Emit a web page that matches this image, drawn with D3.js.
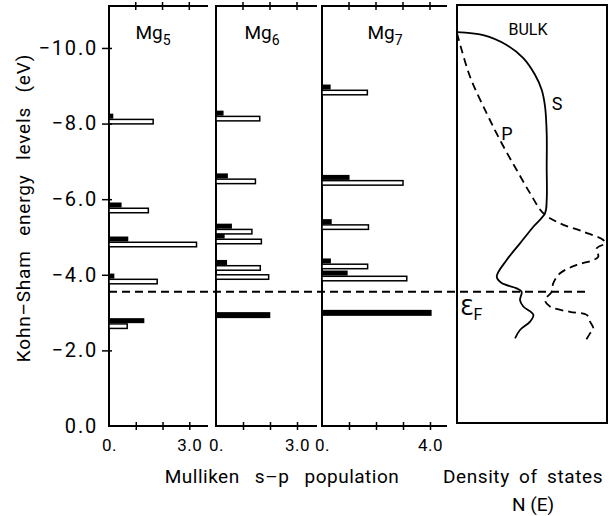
<!DOCTYPE html>
<html><head><meta charset="utf-8">
<script src="https://cdn.jsdelivr.net/npm/d3@7"></script>
<style>
body{margin:0;background:#fff;}
text{font-family:Roboto,"DejaVu Sans",sans-serif;fill:#000;}
</style></head>
<body><svg id="c" width="613" height="516"></svg>
<script>
// ---------- data ----------
const clusterNames = ["Mg", "Mg", "Mg"];
const clusterSubs = ["5", "6", "7"];
const energyTicks = [0, 2, 4, 6, 8, 10];
const fermiEnergy = 3.55;

// Mg5 levels: energy (eV, shown as negative), s population (black), p population (open)
const mg5Energy = [8.13, 5.78, 4.88, 3.90, 2.72];
const mg5S = [0.16, 0.47, 0.72, 0.20, 1.32];
const mg5P = [1.65, 1.47, 3.27, 1.80, 0.68];

const mg6Energy = [8.21, 6.55, 5.22, 4.96, 4.26, 4.02, 2.88];
const mg6S = [0.28, 0.44, 0.59, 0.32, 0.41, 0.0, 2.01];
const mg6P = [1.62, 1.46, 1.33, 1.68, 1.64, 1.95, 0.0];

const mg7Energy = [8.90, 6.51, 5.34, 4.30, 3.98, 2.94];
const mg7S = [0.32, 1.02, 0.36, 0.33, 0.95, 4.06];
const mg7P = [1.68, 3.00, 1.72, 1.69, 3.14, 0.0];

const popTicksMax = [3, 3, 4];

// Bulk density of states (arbitrary units 0..1)
const bulkSEnergy = [10.42, 10.34, 10.08, 9.73, 9.29, 8.89, 8.45, 7.74, 6.86, 5.98, 5.63, 5.27, 4.83, 4.39, 3.95, 3.78, 3.64, 3.55, 3.33, 3.16, 2.94, 2.76, 2.54, 2.32];
const bulkSDos = [0, 0.175, 0.331, 0.442, 0.52, 0.565, 0.587, 0.598, 0.598, 0.598, 0.587, 0.509, 0.42, 0.331, 0.265, 0.298, 0.398, 0.431, 0.42, 0.442, 0.509, 0.487, 0.42, 0.387];
const bulkPEnergy = [10.39, 9.24, 8.27, 7.48, 6.77, 6.16, 5.63, 5.36, 5.14, 4.92, 4.83, 4.70, 4.48, 4.39, 4.26, 4.04, 3.78, 3.55, 3.33, 3.16, 3.02, 2.94, 2.76, 2.58, 2.45, 2.23];
const bulkPDos = [0, 0.087, 0.198, 0.298, 0.398, 0.487, 0.575, 0.687, 0.842, 0.975, 0.987, 0.931, 0.942, 0.909, 0.798, 0.687, 0.642, 0.631, 0.587, 0.62, 0.753, 0.865, 0.887, 0.909, 0.887, 0.853];

// ---------- layout ----------
const svg = d3.select("#c");
const yTop = 6, yBot = 426;
const y = d3.scaleLinear().domain([0, 11.11]).range([yBot, yTop]);

const panelX = [[109, 189.3, 208], [216, 297, 317], [322, 430, 447]]; // x0, x at tick max, right end
const levels = [
  {E: mg5Energy, S: mg5S, P: mg5P},
  {E: mg6Energy, S: mg6S, P: mg6P},
  {E: mg7Energy, S: mg7S, P: mg7P}
];
const titleX = [153, 262, 385];

levels.forEach((lv, i) => {
  const [x0, xm, xr] = panelX[i];
  const tmax = popTicksMax[i];
  const x = d3.scaleLinear().domain([0, tmax]).range([x0, xm]);
  const g = svg.append("g");
  g.append("path").attr("d", `M${xr},${yTop}H${x0}V${yBot}H${xr}`)
    .attr("fill", "none").attr("stroke", "#000").attr("stroke-width", 2);
  const tv = d3.range(1, tmax + 1);
  g.selectAll(".tt").data(tv).join("line")
    .attr("x1", d => x(d)).attr("x2", d => x(d)).attr("y1", yTop - 4).attr("y2", yTop + 4)
    .attr("stroke", "#000").attr("stroke-width", 1.5);
  const ax = d3.axisBottom(x).tickValues(d3.range(0, tmax + 1))
    .tickFormat(d => d === 0 ? "0." : (d === tmax ? d.toFixed(1) : "")).tickSize(0).tickPadding(13);
  const axg = g.append("g").attr("transform", `translate(0,${yBot})`).call(ax);
  axg.select(".domain").remove();
  axg.selectAll("text").attr("font-size", 17).attr("letter-spacing", 0.5).style("font-family", "Roboto");
  axg.selectAll(".tick").filter(d => d > 0).append("line")
    .attr("y1", -4).attr("y2", 4).attr("stroke", "#000").attr("stroke-width", 1.5);
  const t = g.append("text").attr("x", titleX[i]).attr("y", 39).attr("text-anchor", "middle")
    .attr("font-size", 19);
  t.append("tspan").text(clusterNames[i]);
  t.append("tspan").text(clusterSubs[i]).attr("font-size", 14).attr("dy", 6);
  const idx = d3.range(lv.E.length);
  g.selectAll(".sb").data(idx.filter(k => lv.S[k] > 0)).join("rect")
    .attr("x", x0).attr("y", k => y(lv.E[k]) - 5)
    .attr("width", k => x(lv.S[k]) - x0).attr("height", k => lv.P[k] > 0 ? 5 : 6)
    .attr("fill", "#000");
  g.selectAll(".pb").data(idx.filter(k => lv.P[k] > 0)).join("rect")
    .attr("x", x0).attr("y", k => y(lv.E[k]) + 0.75)
    .attr("width", k => x(lv.P[k]) - x0).attr("height", 4.5)
    .attr("fill", "#fff").attr("stroke", "#000").attr("stroke-width", 1.5);
});

// energy axis on first panel
const yAx = d3.axisLeft(y).tickValues(energyTicks)
  .tickFormat(d => d === 0 ? "0.0" : "\u2212" + d.toFixed(1)).tickSize(0).tickPadding(11);
const yg = svg.append("g").attr("transform", "translate(109,0)").call(yAx);
yg.select(".domain").remove();
yg.selectAll("text").attr("font-size", 20).attr("letter-spacing", 1.8).style("font-family", "Roboto");
yg.selectAll(".tick").filter(d => d > 0).append("line")
  .attr("x1", -7).attr("x2", 3).attr("stroke", "#000").attr("stroke-width", 1.5);

// bulk panel
const bx0 = 457, bx1 = 607, byT = 5, byB = 423;
const xd = d3.scaleLinear().domain([0, 1]).range([bx0, bx1]);
svg.append("rect").attr("x", bx0).attr("y", byT).attr("width", bx1 - bx0).attr("height", byB - byT)
  .attr("fill", "none").attr("stroke", "#000").attr("stroke-width", 2);
const line = d3.line().x(d => xd(d[0])).y(d => y(d[1])).curve(d3.curveCatmullRom.alpha(0.5));
svg.append("path").attr("d", line(bulkSDos.map((v, k) => [v, bulkSEnergy[k]])))
  .attr("fill", "none").attr("stroke", "#000").attr("stroke-width", 1.8);
svg.append("path").attr("d", line(bulkPDos.map((v, k) => [v, bulkPEnergy[k]])))
  .attr("fill", "none").attr("stroke", "#000").attr("stroke-width", 1.8).attr("stroke-dasharray", "8,5");
svg.append("text").attr("x", 528).attr("y", 35).attr("text-anchor", "middle").attr("font-size", 16).text("BULK");
svg.append("text").attr("x", 557).attr("y", 110).attr("text-anchor", "middle").attr("font-size", 18).text("S");
svg.append("text").attr("x", 507).attr("y", 140).attr("text-anchor", "middle").attr("font-size", 18).text("P");
const ef = svg.append("text").attr("x", 460).attr("y", 315).attr("font-size", 22);
ef.append("tspan").text("\u0190");
ef.append("tspan").text("F").attr("font-size", 16).attr("dy", 5);

// Fermi level
svg.append("line").attr("x1", 109).attr("x2", 587).attr("y1", y(fermiEnergy)).attr("y2", y(fermiEnergy))
  .attr("stroke", "#000").attr("stroke-width", 2).attr("stroke-dasharray", "8,5");

// axis titles
svg.append("text").attr("transform", "translate(30,208) rotate(-90)").attr("text-anchor", "middle")
  .attr("font-size", 19).attr("letter-spacing", 0.8).attr("word-spacing", 9).text("Kohn\u2013Sham energy levels (eV)");
svg.append("text").attr("x", 282).attr("y", 483).attr("text-anchor", "middle")
  .attr("font-size", 19).attr("letter-spacing", 0.5).attr("word-spacing", 10).text("Mulliken s\u2013p population");
svg.append("text").attr("x", 523).attr("y", 483).attr("text-anchor", "middle")
  .attr("font-size", 19).attr("letter-spacing", 0.6).attr("word-spacing", 4).text("Density of states");
svg.append("text").attr("x", 533).attr("y", 511).attr("text-anchor", "middle")
  .attr("font-size", 19).text("N (E)");
</script></body></html>
